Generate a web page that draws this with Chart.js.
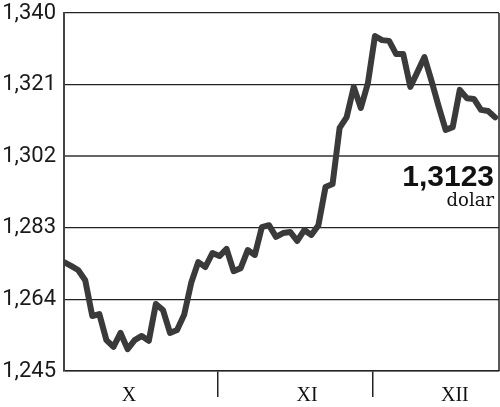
<!DOCTYPE html>
<html>
<head>
<meta charset="utf-8">
<script src="https://cdn.jsdelivr.net/npm/chart.js@4/dist/chart.umd.min.js"></script>
<style>
  html, body { margin: 0; padding: 0; background: #fff; }
  #c { display: block; }
</style>
</head>
<body>
<canvas id="c" width="500" height="407"></canvas>
<script>
// ---- data ----
const rates = [
  1.2739, 1.2729, 1.2718, 1.2691, 1.2596, 1.2601, 1.2532, 1.2514, 1.2551, 1.2508,
  1.2532, 1.2543, 1.2530, 1.2628, 1.2612, 1.2551, 1.2559, 1.2599, 1.2684, 1.2739,
  1.2726, 1.2763, 1.2755, 1.2774, 1.2715, 1.2723, 1.2771, 1.2758, 1.2832, 1.2837,
  1.2806, 1.2816, 1.2819, 1.2795, 1.2824, 1.2811, 1.2837, 1.2938, 1.2946, 1.3095,
  1.3124, 1.3204, 1.3148, 1.3214, 1.3339, 1.3328, 1.3326, 1.3291, 1.3291, 1.3204,
  1.3243, 1.3283, 1.3220, 1.3153, 1.3090, 1.3097, 1.3196, 1.3174, 1.3172, 1.3143,
  1.3140, 1.3123
];
const months = ['X', 'XI', 'XII'];
const monthLabelAt = [9.2, 34.4, 55.3];
const monthBounds = [21.8, 43.7];
const xMax = 61.55;
const yTicks = [1.245, 1.264, 1.283, 1.302, 1.321, 1.340];
const lastLabel = '1,3123';
const unitLabel = 'dolar';

const points = rates.map((v, i) => ({ x: i, y: v }));
const fmt = v => v.toFixed(3).replace('.', ',');

const frame = {
  id: 'frame',
  beforeDatasetsDraw(chart) {
    const { ctx, chartArea: a } = chart;
    ctx.save();
    ctx.strokeStyle = '#222';
    ctx.lineWidth = 1.5;
    ctx.beginPath();
    ctx.moveTo(a.right, a.top);
    ctx.lineTo(a.right, a.bottom);
    ctx.stroke();
    ctx.restore();
  },
  afterDraw(chart) {
    const { ctx, chartArea: a } = chart;
    ctx.save();
    ctx.fillStyle = '#111';
    ctx.textAlign = 'right';
    ctx.textBaseline = 'alphabetic';
    ctx.font = 'bold 30px "Liberation Sans", Arial, sans-serif';
    ctx.fillText(lastLabel, a.right - 5, 186);
    ctx.font = '18px "DejaVu Serif", serif';
    ctx.fillText(unitLabel, a.right - 5, 206);
    ctx.restore();
  }
};

new Chart(document.getElementById('c'), {
  type: 'line',
  data: {
    datasets: [{
      data: points,
      borderColor: '#3a3a3a',
      borderWidth: 6,
      borderJoinStyle: 'round',
      borderCapStyle: 'round',
      pointRadius: 0,
      tension: 0,
      fill: false
    }]
  },
  options: {
    responsive: false,
    animation: false,
    devicePixelRatio: 1,
    layout: { padding: { top: 13, right: 1, left: 0, bottom: 0 } },
    plugins: { legend: { display: false }, tooltip: { enabled: false } },
    scales: {
      x: {
        type: 'linear',
        min: 0,
        max: xMax,
        afterBuildTicks(scale) {
          scale.ticks = monthBounds.map(v => ({ value: v }))
            .concat(monthLabelAt.map(v => ({ value: v })));
        },
        afterFit(scale) { scale.height = 36; scale.paddingLeft = 0; scale.paddingRight = 0; },
        grid: {
          drawOnChartArea: false,
          drawTicks: true,
          tickLength: 26,
          lineWidth: 1.5,
          color: ctx => (ctx.tick && monthBounds.includes(ctx.tick.value)) ? '#222' : 'rgba(0,0,0,0)'
        },
        border: { display: true, color: '#222', width: 1.5 },
        ticks: {
          autoSkip: false,
          maxRotation: 0,
          padding: -13,
          color: '#111',
          font: { family: '"Liberation Serif", "Times New Roman", serif', size: 20 },
          callback: v => {
            const k = monthLabelAt.indexOf(v);
            return k >= 0 ? months[k] : '';
          }
        }
      },
      y: {
        min: 1.245,
        max: 1.340,
        afterBuildTicks(scale) { scale.ticks = yTicks.map(v => ({ value: v })); },
        afterFit(scale) { scale.width = 64; scale.paddingTop = 0; scale.paddingBottom = 0; },
        grid: {
          drawTicks: false,
          color: ctx => (ctx.tick && ctx.tick.value === 1.302) ? '#666' : '#222',
          lineWidth: ctx => (ctx.tick && ctx.tick.value === 1.302) ? 2 : 1.2
        },
        border: { display: true, color: '#444', width: 2 },
        ticks: {
          padding: 8,
          color: '#1a1a1a',
          font: { family: 'Roboto, "DejaVu Sans", sans-serif', size: 22 },
          callback: v => fmt(v)
        }
      }
    }
  },
  plugins: [frame]
});
</script>
</body>
</html>
